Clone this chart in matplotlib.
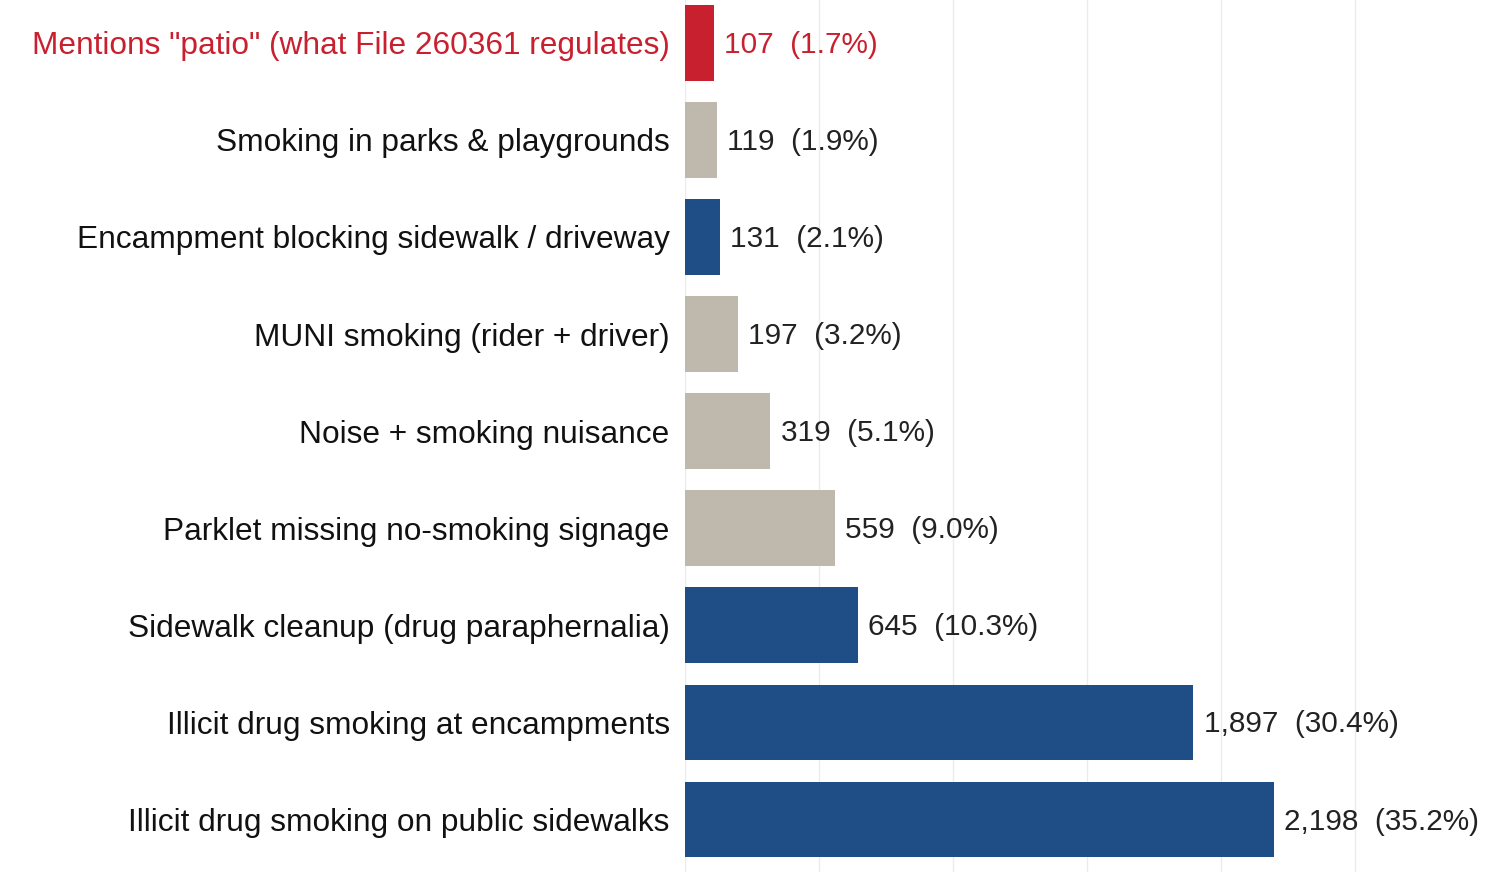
import matplotlib
matplotlib.use("Agg")
import matplotlib.pyplot as plt

categories = [
    "Illicit drug smoking on public sidewalks",
    "Illicit drug smoking at encampments",
    "Sidewalk cleanup (drug paraphernalia)",
    "Parklet missing no-smoking signage",
    "Noise + smoking nuisance",
    "MUNI smoking (rider + driver)",
    "Encampment blocking sidewalk / driveway",
    "Smoking in parks & playgrounds",
    'Mentions "patio" (what File 260361 regulates)',
]
values = [2198, 1897, 645, 559, 319, 197, 131, 119, 107]
percents = [35.2, 30.4, 10.3, 9.0, 5.1, 3.2, 2.1, 1.9, 1.7]
groups = ["blue", "blue", "blue", "grey", "grey", "grey", "blue", "grey", "red"]

palette = {"blue": "#1f4e87", "grey": "#bfb9ad", "red": "#c8202f"}
text_col = {"blue": "#222222", "grey": "#222222", "red": "#c8202f"}
label_col = {"blue": "#111111", "grey": "#111111", "red": "#c8202f"}

plt.rcParams['font.family'] = ['Liberation Sans', 'DejaVu Sans']

fig = plt.figure(figsize=(15.12, 8.72), dpi=100)
ax = fig.add_axes([685/1512, 0, 1 - 685/1512, 1])

y = list(range(len(categories)))
ax.barh(y, values, height=0.78, color=[palette[g] for g in groups], zorder=2)

for yi, v, p, g in zip(y, values, percents, groups):
    ax.text(v + 38, yi - 0.02, f"{v:,}  ({p:.1f}%)", va="center", ha="left",
            fontsize=21.4, color=text_col[g], zorder=3)

ax.set_xlim(0, 3086)
ax.set_ylim(-0.54, 8.44)
ax.set_xticks([0, 500, 1000, 1500, 2000, 2500])
ax.xaxis.grid(True, color="#ebebeb", linewidth=1, zorder=0)
ax.tick_params(axis="x", length=0, labelbottom=False)
ax.set_yticks(y)
ax.set_yticklabels(categories, fontsize=22.8)
ax.tick_params(axis="y", length=0, pad=11)
for lbl, g in zip(ax.get_yticklabels(), groups):
    lbl.set_color(label_col[g])
for s in ax.spines.values():
    s.set_visible(False)

fig.savefig("out.png", dpi=100)
